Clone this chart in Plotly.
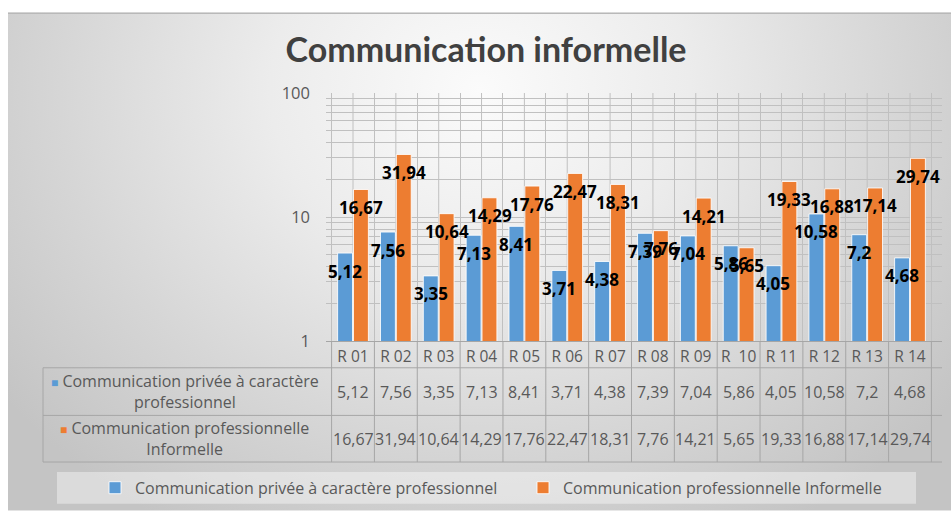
import base64
import math
import plotly.graph_objects as go

# ---- data -------------------------------------------------------------
categories = ["R 01", "R 02", "R 03", "R 04", "R 05", "R 06", "R 07",
              "R 08", "R 09", "R\u00a0 10", "R 11", "R 12", "R 13", "R 14"]
prive = [5.12, 7.56, 3.35, 7.13, 8.41, 3.71, 4.38,
         7.39, 7.04, 5.86, 4.05, 10.58, 7.2, 4.68]
informelle = [16.67, 31.94, 10.64, 14.29, 17.76, 22.47, 18.31,
              7.76, 14.21, 5.65, 19.33, 16.88, 17.14, 29.74]
series_names = ["Communication privée à caractère professionnel",
                "Communication professionnelle Informelle"]
row_labels = ["Communication privée à caractère<br>professionnel",
              "Communication professionnelle<br>Informelle"]
title_text = "Communication informelle"

# ---- style ------------------------------------------------------------
W, H = 951, 514
BLUE, ORANGE = "#5b9bd5", "#ed7d31"
TXT = "#595959"
GRID = "#c0c0c0"
FONT = "Open Sans"

# plot area in pixels
PL, PR, PT, PB = 326, 942, 93, 343
PW, PH = PR - PL, PB - PT


def fmt(v):
    return f"{v:g}".replace(".", ",")


def py(pix):
    """pixel row -> paper y (relative to plot area)"""
    return (PB - pix) / PH


def px(pix):
    """pixel column -> paper x (relative to plot area)"""
    return (pix - PL) / PW


fig = go.Figure()
for name, vals, col in [(series_names[0], prive, BLUE),
                        (series_names[1], informelle, ORANGE)]:
    fig.add_trace(go.Bar(
        x=categories, y=vals, name=name,
        marker=dict(color=col, line=dict(color="rgba(255,255,255,0.85)", width=1)),
        hoverinfo="x+y+name",
    ))

annotations = []
# value labels near the top of each bar
for vals, shift in [(prive, -8), (informelle, 8)]:
    for c, v in zip(categories, vals):
        annotations.append(dict(
            x=c, y=math.log10(v), xref="x", yref="y", text=fmt(v),
            showarrow=False, xshift=shift, yshift=-18,
            xanchor="center", yanchor="middle",
            font=dict(family=FONT, size=17, color="#000000", weight="bold"),
        ))

# data table below the category axis
row_tops = [370, 418, 465]
for r, (vals, col, lab) in enumerate([(prive, BLUE, row_labels[0]),
                                      (informelle, ORANGE, row_labels[1])]):
    ymid = py((row_tops[r] + row_tops[r + 1]) / 2)
    for c, v in zip(categories, vals):
        annotations.append(dict(
            x=c, y=ymid, xref="x", yref="paper", text=fmt(v),
            showarrow=False, xanchor="center", yanchor="middle",
            font=dict(family=FONT, size=16, color=TXT),
        ))
    annotations.append(dict(
        x=px((43 + PL) / 2), y=ymid, xref="paper", yref="paper",
        text=f"<span style='color:{col};font-size:12px'>\u25a0</span> {lab}",
        showarrow=False, align="center", xanchor="center", yanchor="middle",
        font=dict(family=FONT, size=16, color=TXT),
    ))

shapes = []
line_style = dict(color="#a6a6a6", width=1)
# horizontal table rules
for yy in row_tops:
    shapes.append(dict(type="line", xref="paper", yref="paper",
                       x0=px(43), x1=1, y0=py(yy), y1=py(yy),
                       line=line_style, layer="above"))
# vertical table rules at category boundaries
for k in range(len(categories) + 1):
    shapes.append(dict(type="line", xref="x", yref="paper",
                       x0=k - 0.5, x1=k - 0.5, y0=0, y1=py(row_tops[-1]),
                       line=line_style, layer="above"))
shapes.append(dict(type="line", xref="paper", yref="paper",
                   x0=px(43), x1=px(43), y0=py(row_tops[0]), y1=py(row_tops[-1]),
                   line=line_style, layer="above"))
# vertical grid lines through the centre of each category
for c in categories:
    shapes.append(dict(type="line", xref="x", yref="paper", x0=c, x1=c,
                       y0=0, y1=1, line=dict(color=GRID, width=1), layer="below"))
# legend panel
shapes.append(dict(type="rect", xref="paper", yref="paper",
                   x0=px(57), x1=px(916), y0=py(507), y1=py(475),
                   fillcolor="rgba(255,255,255,0.4)", line=dict(width=0),
                   layer="below"))

# soft grey radial background behind the whole chart
svg = f"""<svg xmlns="http://www.w3.org/2000/svg" width="{W}" height="{H}" viewBox="0 0 {W} {H}">
<defs><radialGradient id="g" gradientUnits="userSpaceOnUse" cx="480" cy="90" r="600"
 gradientTransform="translate(480 90) scale(1 0.85) translate(-480 -90)">
<stop offset="0" stop-color="#fbfbfb"/><stop offset="0.35" stop-color="#ececec"/>
<stop offset="0.7" stop-color="#d6d6d6"/><stop offset="1" stop-color="#c4c4c4"/>
</radialGradient></defs>
<rect width="{W}" height="{H}" fill="#ffffff"/>
<rect x="8" y="12" width="{W - 8}" height="{H - 12}" fill="url(#g)"/>
<line x1="8" y1="12.5" x2="{W}" y2="12.5" stroke="#b8b8b8" stroke-width="1.5"/>
</svg>"""
bg_src = "data:image/svg+xml;base64," + base64.b64encode(svg.encode()).decode()

fig.update_layout(
    width=W, height=H,
    margin=dict(l=PL, r=W - PR, t=PT, b=H - PB, pad=0),
    paper_bgcolor="#ffffff", plot_bgcolor="rgba(0,0,0,0)",
    barmode="group", bargap=0.26, bargroupgap=0.06,
    font=dict(family=FONT, color=TXT),
    title=dict(text=title_text, x=486 / W, xref="container", xanchor="center",
               y=1 - 50 / H, yref="container", yanchor="middle",
               font=dict(family="Lato", size=34, color="#404040", weight="bold")),
    xaxis=dict(type="category", showgrid=True, gridcolor=GRID, gridwidth=1,
               tickson="boundaries", ticks="", showline=True,
               linecolor="#a6a6a6", linewidth=1, tickangle=0,
               tickfont=dict(family=FONT, size=15.5, color=TXT),
               ticklabelstandoff=1, zeroline=False, fixedrange=True),
    yaxis=dict(type="log", range=[0, 2], dtick=1, showgrid=True,
               gridcolor=GRID, gridwidth=1, ticks="", showline=False,
               zeroline=False, tickfont=dict(family=FONT, size=16.5, color=TXT),
               ticklabelstandoff=15,
               minor=dict(dtick="D1", showgrid=True, gridcolor=GRID, gridwidth=1),
               fixedrange=True),
    legend=dict(orientation="h", x=px(96), xref="paper", xanchor="left",
                y=py(491), yref="paper", yanchor="middle",
                entrywidth=383, entrywidthmode="pixels",
                bgcolor="rgba(0,0,0,0)", font=dict(family=FONT, size=16, color=TXT),
                itemwidth=30, traceorder="normal"),
    annotations=annotations,
    shapes=shapes,
    images=[dict(source=bg_src, xref="paper", yref="paper",
                 x=px(0), y=py(0), sizex=W / PW, sizey=H / PH,
                 xanchor="left", yanchor="top", sizing="stretch", layer="below")],
)

fig.write_html("out.html")
